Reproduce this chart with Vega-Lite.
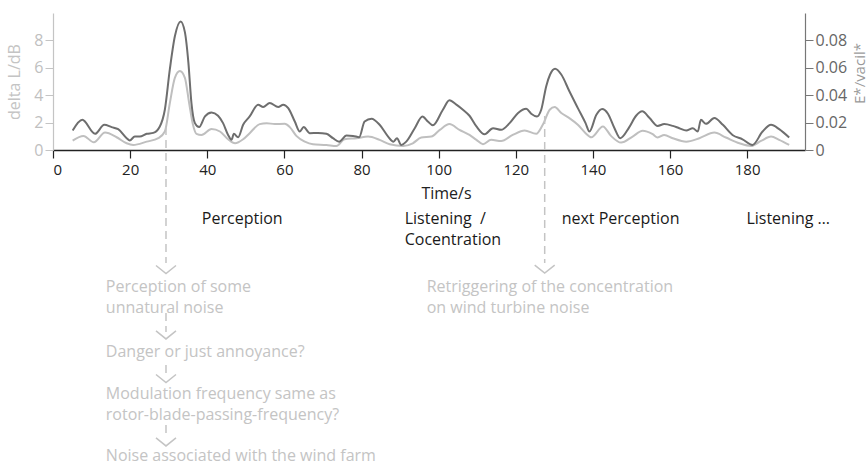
{
  "$schema": "https://vega.github.io/schema/vega-lite/v6.json",
  "width": 752,
  "height": 137,
  "autosize": {"type": "none"},
  "padding": {"left": 53, "top": 13, "right": 63, "bottom": 318},
  "background": "white",
  "config": {"view": {"stroke": null}, "font": "Open Sans", "axis": {"grid": false}},
  "datasets": {
    "deltaL": [
      {"t": 5.1, "dL": 0.69}, {"t": 7.9, "dL": 1.03}, {"t": 10.6, "dL": 0.56}, {"t": 13.5, "dL": 1.27},
      {"t": 16.5, "dL": 0.93}, {"t": 19.1, "dL": 0.49}, {"t": 20.8, "dL": 0.37}, {"t": 24.3, "dL": 0.61},
      {"t": 27.3, "dL": 0.86}, {"t": 29.0, "dL": 1.35}, {"t": 30.3, "dL": 3.43}, {"t": 31.6, "dL": 5.27},
      {"t": 32.9, "dL": 5.76}, {"t": 34.2, "dL": 5.27}, {"t": 35.3, "dL": 3.43}, {"t": 36.3, "dL": 1.84},
      {"t": 37.2, "dL": 1.18}, {"t": 38.5, "dL": 1.1}, {"t": 41.1, "dL": 1.54}, {"t": 43.3, "dL": 1.35},
      {"t": 45.4, "dL": 0.78}, {"t": 47.2, "dL": 0.49}, {"t": 49.3, "dL": 0.78}, {"t": 51.0, "dL": 1.23},
      {"t": 53.6, "dL": 1.89}, {"t": 55.4, "dL": 1.96}, {"t": 57.5, "dL": 1.89}, {"t": 60.1, "dL": 1.91},
      {"t": 61.4, "dL": 1.67}, {"t": 63.1, "dL": 1.03}, {"t": 65.3, "dL": 0.61}, {"t": 67.4, "dL": 0.42},
      {"t": 70.9, "dL": 0.37}, {"t": 73.5, "dL": 0.29}, {"t": 75.6, "dL": 0.78}, {"t": 78.7, "dL": 0.86},
      {"t": 81.7, "dL": 0.98}, {"t": 84.7, "dL": 0.74}, {"t": 87.3, "dL": 0.42}, {"t": 90.8, "dL": 0.29},
      {"t": 93.3, "dL": 0.49}, {"t": 95.5, "dL": 0.91}, {"t": 98.1, "dL": 0.98}, {"t": 100.3, "dL": 1.47},
      {"t": 102.8, "dL": 1.89}, {"t": 105.4, "dL": 1.47}, {"t": 108.0, "dL": 1.1}, {"t": 109.8, "dL": 0.74},
      {"t": 111.5, "dL": 0.42}, {"t": 113.6, "dL": 0.74}, {"t": 116.2, "dL": 0.66}, {"t": 119.2, "dL": 1.1},
      {"t": 122.3, "dL": 1.42}, {"t": 125.3, "dL": 1.18}, {"t": 127.0, "dL": 1.84}, {"t": 128.8, "dL": 2.94},
      {"t": 130.1, "dL": 3.14}, {"t": 131.8, "dL": 2.7}, {"t": 133.9, "dL": 2.33}, {"t": 136.1, "dL": 1.84},
      {"t": 138.1, "dL": 1.23}, {"t": 139.6, "dL": 0.93}, {"t": 142.6, "dL": 1.72}, {"t": 144.7, "dL": 1.03},
      {"t": 147.3, "dL": 0.54}, {"t": 150.3, "dL": 0.98}, {"t": 152.9, "dL": 1.4}, {"t": 155.5, "dL": 1.15},
      {"t": 156.8, "dL": 0.91}, {"t": 158.5, "dL": 1.1}, {"t": 160.7, "dL": 0.86}, {"t": 164.2, "dL": 0.61},
      {"t": 167.6, "dL": 0.86}, {"t": 171.5, "dL": 1.27}, {"t": 174.5, "dL": 0.91}, {"t": 178.0, "dL": 0.49},
      {"t": 181.0, "dL": 0.29}, {"t": 183.6, "dL": 0.66}, {"t": 186.2, "dL": 0.98}, {"t": 188.3, "dL": 0.74},
      {"t": 190.9, "dL": 0.37}
    ],
    "Estar": [
      {"t": 5.1, "E": 0.0142}, {"t": 7.6, "E": 0.022}, {"t": 10.9, "E": 0.0118}, {"t": 13.3, "E": 0.0184},
      {"t": 15.2, "E": 0.0167}, {"t": 16.9, "E": 0.0152}, {"t": 19.1, "E": 0.0086}, {"t": 19.9, "E": 0.007},
      {"t": 21.2, "E": 0.0098}, {"t": 22.5, "E": 0.0098}, {"t": 24.3, "E": 0.0118}, {"t": 26.0, "E": 0.0125},
      {"t": 27.7, "E": 0.0172}, {"t": 29.0, "E": 0.0294}, {"t": 30.3, "E": 0.059}, {"t": 31.6, "E": 0.083},
      {"t": 33.1, "E": 0.0938}, {"t": 34.2, "E": 0.086}, {"t": 35.1, "E": 0.064}, {"t": 35.9, "E": 0.0343},
      {"t": 36.8, "E": 0.0196}, {"t": 37.9, "E": 0.0167}, {"t": 39.4, "E": 0.0245}, {"t": 41.1, "E": 0.0274},
      {"t": 42.8, "E": 0.025}, {"t": 44.1, "E": 0.0196}, {"t": 45.4, "E": 0.011}, {"t": 46.3, "E": 0.0074},
      {"t": 46.9, "E": 0.0118}, {"t": 48.0, "E": 0.0093}, {"t": 49.3, "E": 0.0184}, {"t": 51.0, "E": 0.0245},
      {"t": 53.2, "E": 0.0331}, {"t": 54.5, "E": 0.0314}, {"t": 56.2, "E": 0.0343}, {"t": 58.4, "E": 0.0314},
      {"t": 59.7, "E": 0.0331}, {"t": 61.0, "E": 0.0306}, {"t": 62.7, "E": 0.0208}, {"t": 64.0, "E": 0.0135},
      {"t": 65.0, "E": 0.0167}, {"t": 66.6, "E": 0.0123}, {"t": 68.7, "E": 0.0125}, {"t": 70.9, "E": 0.0118},
      {"t": 72.6, "E": 0.0086}, {"t": 74.2, "E": 0.0061}, {"t": 76.1, "E": 0.0105}, {"t": 77.8, "E": 0.0103},
      {"t": 79.4, "E": 0.0093}, {"t": 80.8, "E": 0.0208}, {"t": 82.6, "E": 0.0228}, {"t": 84.7, "E": 0.0184},
      {"t": 86.9, "E": 0.0098}, {"t": 88.3, "E": 0.0061}, {"t": 89.2, "E": 0.0086}, {"t": 90.3, "E": 0.0037},
      {"t": 91.6, "E": 0.0061}, {"t": 93.8, "E": 0.0159}, {"t": 95.8, "E": 0.0245}, {"t": 97.2, "E": 0.0208},
      {"t": 98.5, "E": 0.018}, {"t": 101.1, "E": 0.0294}, {"t": 102.8, "E": 0.0363}, {"t": 104.6, "E": 0.0331},
      {"t": 106.3, "E": 0.0294}, {"t": 108.0, "E": 0.025}, {"t": 109.8, "E": 0.0172}, {"t": 111.9, "E": 0.0115},
      {"t": 114.1, "E": 0.0159}, {"t": 116.2, "E": 0.0147}, {"t": 118.4, "E": 0.0196}, {"t": 120.6, "E": 0.027},
      {"t": 122.7, "E": 0.0301}, {"t": 124.0, "E": 0.0265}, {"t": 125.5, "E": 0.0245}, {"t": 126.6, "E": 0.0294},
      {"t": 127.9, "E": 0.0466}, {"t": 128.9, "E": 0.0551}, {"t": 130.2, "E": 0.0593}, {"t": 131.8, "E": 0.0551},
      {"t": 133.9, "E": 0.0429}, {"t": 136.1, "E": 0.0306}, {"t": 138.1, "E": 0.0196}, {"t": 139.1, "E": 0.0135},
      {"t": 140.9, "E": 0.0257}, {"t": 142.4, "E": 0.0299}, {"t": 143.9, "E": 0.0265}, {"t": 145.6, "E": 0.0159},
      {"t": 147.1, "E": 0.0086}, {"t": 149.4, "E": 0.0165}, {"t": 151.2, "E": 0.025}, {"t": 152.8, "E": 0.0282},
      {"t": 154.7, "E": 0.0233}, {"t": 156.8, "E": 0.0176}, {"t": 158.5, "E": 0.0189}, {"t": 160.7, "E": 0.0176},
      {"t": 162.4, "E": 0.0159}, {"t": 164.2, "E": 0.0142}, {"t": 165.9, "E": 0.0159}, {"t": 167.2, "E": 0.0135},
      {"t": 168.0, "E": 0.022}, {"t": 169.3, "E": 0.0191}, {"t": 171.5, "E": 0.0233}, {"t": 173.7, "E": 0.0184},
      {"t": 176.2, "E": 0.011}, {"t": 178.8, "E": 0.0078}, {"t": 181.4, "E": 0.0037}, {"t": 184.0, "E": 0.0135},
      {"t": 186.2, "E": 0.0184}, {"t": 188.3, "E": 0.0152}, {"t": 190.9, "E": 0.0091}
    ],
    "guides": [
      {"t": 29.3, "from": 1.68, "to": -8.25},
      {"t": 29.3, "from": -11.9, "to": -13.28},
      {"t": 29.3, "from": -15.69, "to": -16.42},
      {"t": 29.3, "from": -20.07, "to": -21.02},
      {"t": 127.5, "from": 2.48, "to": -8.25}
    ],
    "arrows": [
      {"t": 29.3, "pos": -8.72},
      {"t": 29.3, "pos": -13.5},
      {"t": 29.3, "pos": -16.68},
      {"t": 29.3, "pos": -21.31},
      {"t": 127.5, "pos": -8.69}
    ],
    "phases": [
      {"t": 38.6, "pos": -5.04, "label": "Perception"},
      {"t": 91.2, "pos": -5.0, "label": "Listening \u00a0/"},
      {"t": 91.2, "pos": -6.55, "label": "Cocentration"},
      {"t": 131.9, "pos": -5.04, "label": "next Perception"},
      {"t": 179.8, "pos": -5.04, "label": "Listening …"}
    ],
    "notes": [
      {"t": 13.7, "pos": -10.0, "label": "Perception of some"},
      {"t": 13.7, "pos": -11.53, "label": "unnatural noise"},
      {"t": 13.7, "pos": -14.72, "label": "Danger or just annoyance?"},
      {"t": 13.7, "pos": -17.83, "label": "Modulation frequency same as"},
      {"t": 13.7, "pos": -19.34, "label": "rotor-blade-passing-frequency?"},
      {"t": 13.7, "pos": -22.34, "label": "Noise associated with the wind farm"},
      {"t": 96.9, "pos": -10.0, "label": "Retriggering of the concentration"},
      {"t": 96.9, "pos": -11.53, "label": "on wind turbine noise"}
    ]
  },
  "layer": [
    {
      "data": {"name": "deltaL"},
      "mark": {"type": "line", "color": "#bfbfbf", "strokeWidth": 2, "interpolate": "monotone"},
      "encoding": {
        "x": {
          "field": "t", "type": "quantitative",
          "scale": {"domain": [0, 195], "nice": false},
          "axis": {
            "values": [0, 20, 40, 60, 80, 100, 120, 140, 160, 180],
            "title": "Time/s",
            "domainColor": "#222222", "domainWidth": 1.5,
            "tickColor": "#222222", "tickSize": 8, "tickWidth": 1.2,
            "labelColor": "#222222", "labelFontSize": 15, "labelPadding": 4,
            "titleColor": "#222222", "titleFontSize": 16, "titleFontWeight": "normal",
            "titleX": 393, "titleY": 43, "titleAlign": "center", "titleBaseline": "middle"
          }
        },
        "y": {
          "field": "dL", "type": "quantitative",
          "scale": {"domain": [0, 10], "nice": false},
          "axis": {
            "orient": "left",
            "values": [0, 2, 4, 6, 8],
            "title": "delta L/dB",
            "domainColor": "#c4c4c4", "domainWidth": 1.2,
            "tickColor": "#c4c4c4", "tickSize": 8,
            "labelColor": "#c0c0c0", "labelFontSize": 16, "labelPadding": 2,
            "titleColor": "#c4c4c4", "titleFontSize": 16, "titleFontWeight": "normal",
            "titlePadding": 11
          }
        }
      }
    },
    {
      "data": {"name": "Estar"},
      "mark": {"type": "line", "color": "#6e6e6e", "strokeWidth": 2, "interpolate": "monotone"},
      "encoding": {
        "x": {"field": "t", "type": "quantitative", "scale": {"domain": [0, 195], "nice": false}},
        "y": {
          "field": "E", "type": "quantitative",
          "scale": {"domain": [0, 0.1], "nice": false},
          "axis": {
            "orient": "right",
            "values": [0, 0.02, 0.04, 0.06, 0.08],
            "labelExpr": "datum.value === 0 ? '0' : format(datum.value, '.2f')",
            "title": "E*/vacil*",
            "domainColor": "#777777", "domainWidth": 1.2,
            "tickColor": "#777777", "tickSize": 8,
            "labelColor": "#666666", "labelFontSize": 16, "labelPadding": 2,
            "titleColor": "#999999", "titleFontSize": 15, "titleFontWeight": "normal",
            "titleAngle": 270, "titleX": 54, "titleY": 60, "titleAlign": "center", "titleBaseline": "middle"
          }
        }
      }
    },
    {
      "data": {"name": "guides"},
      "mark": {"type": "rule", "color": "#c4c4c4", "strokeWidth": 1.5, "strokeDash": [8, 5]},
      "encoding": {
        "x": {"field": "t", "type": "quantitative", "scale": {"domain": [0, 195], "nice": false}},
        "y": {"field": "from", "type": "quantitative", "scale": {"domain": [0, 10], "nice": false}, "axis": null},
        "y2": {"field": "to"}
      }
    },
    {
      "data": {"name": "arrows"},
      "mark": {"type": "point", "shape": "M-1,-0.4L0,0.4L1,-0.4", "filled": false, "size": 400, "stroke": "#c4c4c4", "strokeWidth": 1.5, "opacity": 1},
      "encoding": {
        "x": {"field": "t", "type": "quantitative", "scale": {"domain": [0, 195], "nice": false}},
        "y": {"field": "pos", "type": "quantitative", "scale": {"domain": [0, 10], "nice": false}, "axis": null}
      }
    },
    {
      "data": {"name": "phases"},
      "mark": {"type": "text", "align": "left", "baseline": "middle", "fontSize": 16, "color": "#1a1a1a"},
      "encoding": {
        "x": {"field": "t", "type": "quantitative", "scale": {"domain": [0, 195], "nice": false}},
        "y": {"field": "pos", "type": "quantitative", "scale": {"domain": [0, 10], "nice": false}, "axis": null},
        "text": {"field": "label"}
      }
    },
    {
      "data": {"name": "notes"},
      "mark": {"type": "text", "align": "left", "baseline": "middle", "fontSize": 16, "color": "#c4c4c4"},
      "encoding": {
        "x": {"field": "t", "type": "quantitative", "scale": {"domain": [0, 195], "nice": false}},
        "y": {"field": "pos", "type": "quantitative", "scale": {"domain": [0, 10], "nice": false}, "axis": null},
        "text": {"field": "label"}
      }
    }
  ],
  "resolve": {"scale": {"y": "independent"}}
}
